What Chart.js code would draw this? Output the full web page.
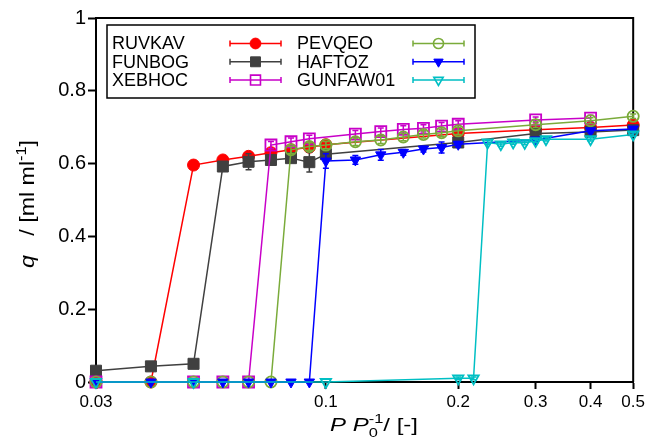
<!DOCTYPE html>
<html>
<head>
<meta charset="utf-8">
<script src="https://cdn.jsdelivr.net/npm/chart.js@4.4.1/dist/chart.umd.min.js"></script>
<style>
  html, body { margin: 0; padding: 0; background: #fff; }
  #wrap { width: 648px; height: 438px; }
</style>
</head>
<body>
<div id="wrap"><canvas id="myChart" width="648" height="438"></canvas></div>
<script>
// P/P0 values, uptake q and error for each structure
const xRuvkav = [0.03, 0.04, 0.05, 0.0583, 0.0667, 0.075, 0.0833, 0.0917, 0.1, 0.2, 0.3, 0.4, 0.5];
const yRuvkav = [0, 0, 0.596, 0.61, 0.62, 0.63, 0.638, 0.645, 0.652, 0.683, 0.693, 0.699, 0.706];
const eRuvkav = [0, 0, 0.005, 0.008, 0.008, 0.01, 0.006, 0.006, 0.005, 0.005, 0.004, 0.004, 0.004];

const xFunbog = [0.03, 0.04, 0.05, 0.0583, 0.0667, 0.075, 0.0833, 0.0917, 0.1, 0.2, 0.3, 0.4, 0.5];
const yFunbog = [0.031, 0.043, 0.05, 0.592, 0.605, 0.61, 0.615, 0.604, 0.626, 0.658, 0.683, 0.687, 0.692];
const eFunbog = [0, 0, 0, 0.01, 0.022, 0.01, 0.01, 0.027, 0.01, 0.008, 0.005, 0.005, 0.005];

const xXebhoc = [0.03, 0.05, 0.0583, 0.0667, 0.075, 0.0833, 0.0917, 0.1167, 0.1333, 0.15, 0.1667, 0.1833, 0.2, 0.3, 0.4];
const yXebhoc = [0, 0, 0, 0, 0.651, 0.66, 0.668, 0.681, 0.688, 0.694, 0.697, 0.703, 0.708, 0.72, 0.725];
const eXebhoc = [0, 0, 0, 0, 0.01, 0.01, 0.01, 0.01, 0.01, 0.01, 0.01, 0.01, 0.01, 0.008, 0.008];

const xPevqeo = [0.03, 0.04, 0.05, 0.0583, 0.0667, 0.075, 0.0833, 0.0917, 0.1, 0.1167, 0.1333, 0.15, 0.1667, 0.1833, 0.2, 0.3, 0.4, 0.5];
const yPevqeo = [0, 0, 0, 0, 0, 0, 0.638, 0.647, 0.651, 0.66, 0.665, 0.673, 0.68, 0.685, 0.69, 0.707, 0.718, 0.73];
const ePevqeo = [0, 0, 0, 0, 0, 0, 0.01, 0.01, 0.01, 0.01, 0.01, 0.01, 0.01, 0.01, 0.01, 0.008, 0.008, 0.006];

const xHaftoz = [0.03, 0.04, 0.05, 0.0583, 0.0667, 0.075, 0.0833, 0.0917, 0.1, 0.1167, 0.1333, 0.15, 0.1667, 0.1833, 0.2, 0.3, 0.4, 0.5];
const yHaftoz = [0, 0, 0, 0, 0, 0, 0, 0, 0.607, 0.61, 0.624, 0.631, 0.64, 0.644, 0.653, 0.665, 0.69, 0.695];
const eHaftoz = [0, 0, 0, 0, 0, 0, 0, 0, 0.02, 0.012, 0.015, 0.008, 0.008, 0.015, 0.008, 0.005, 0.005, 0.005];

const xGunfaw01 = [0.03, 0.05, 0.1, 0.2, 0.2167, 0.2333, 0.25, 0.2667, 0.2833, 0.3, 0.3167, 0.4, 0.5];
const yGunfaw01 = [0, 0, 0, 0.01, 0.01, 0.658, 0.653, 0.658, 0.657, 0.662, 0.667, 0.667, 0.68];
const eGunfaw01 = [0, 0, 0, 0.004, 0.004, 0.005, 0.005, 0.005, 0.005, 0.005, 0.005, 0.005, 0.005];

const xTicks = [0.03, 0.1, 0.2, 0.3, 0.4, 0.5];
const yTicks = [0, 0.2, 0.4, 0.6, 0.8, 1];

const FAM = "'Liberation Sans', Arial, Helvetica, sans-serif";

function series(label, xs, ys, errs, color, style, radius, filled, order) {
  return {
    label: label,
    data: xs.map((x, i) => ({ x: x, y: ys[i] })),
    errors: errs,
    borderColor: color,
    backgroundColor: filled ? color : 'rgba(0,0,0,0)',
    borderWidth: 1.5,
    pointStyle: style,
    pointRadius: radius,
    pointRotation: style === 'triangle' ? 180 : 0,
    pointBorderColor: color,
    pointBackgroundColor: filled ? color : 'rgba(0,0,0,0)',
    pointBorderWidth: filled ? 1 : 1.8,
    filled: filled,
    tension: 0,
    clip: false,
    order: order
  };
}

// error bars under each dataset's markers
const errorBars = {
  id: 'errorBars',
  beforeDatasetDraw(chart, args) {
    const ds = chart.data.datasets[args.index];
    if (!ds.errors) return;
    const ctx = chart.ctx, ys = chart.scales.y;
    ctx.save();
    ctx.strokeStyle = ds.borderColor;
    ctx.lineWidth = 1.5;
    args.meta.data.forEach((pt, i) => {
      const e = ds.errors[i];
      if (!e) return;
      const v = ds.data[i].y;
      const top = ys.getPixelForValue(v + e), bot = ys.getPixelForValue(v - e);
      ctx.beginPath();
      ctx.moveTo(pt.x, top); ctx.lineTo(pt.x, bot);
      ctx.moveTo(pt.x - 3, top); ctx.lineTo(pt.x + 3, top);
      ctx.moveTo(pt.x - 3, bot); ctx.lineTo(pt.x + 3, bot);
      ctx.stroke();
    });
    ctx.restore();
  }
};

// top and right border of the plot box
const frame = {
  id: 'frame',
  beforeDatasetsDraw(chart) {
    const a = chart.chartArea, ctx = chart.ctx;
    ctx.save();
    ctx.strokeStyle = '#000';
    ctx.lineWidth = 2;
    ctx.beginPath();
    ctx.moveTo(a.left, a.top); ctx.lineTo(a.right, a.top); ctx.lineTo(a.right, a.bottom);
    ctx.stroke();
    ctx.restore();
  }
};

function drawMarker(ctx, ds, x, y) {
  const r = ds.pointRadius * 0.9;
  ctx.beginPath();
  if (ds.pointStyle === 'circle') {
    ctx.arc(x, y, r, 0, Math.PI * 2);
  } else if (ds.pointStyle === 'rect') {
    const h = r * Math.SQRT1_2;
    ctx.rect(x - h, y - h, 2 * h, 2 * h);
  } else {
    const w = r * Math.sin(Math.PI / 3);
    ctx.moveTo(x, y + r); ctx.lineTo(x - w, y - r / 2); ctx.lineTo(x + w, y - r / 2);
    ctx.closePath();
  }
  if (ds.filled) { ctx.fillStyle = ds.borderColor; ctx.fill(); }
  ctx.lineWidth = ds.filled ? 1 : 1.6;
  ctx.strokeStyle = ds.borderColor;
  ctx.stroke();
}

const legendBox = {
  id: 'legendBox',
  afterDraw(chart) {
    const ctx = chart.ctx, a = chart.chartArea;
    const left = a.left + 11, top = a.top + 7, w = 368, h = 73;
    ctx.save();
    ctx.fillStyle = '#fff';
    ctx.fillRect(left, top, w, h);
    ctx.strokeStyle = '#000';
    ctx.lineWidth = 1.5;
    ctx.strokeRect(left, top, w, h);
    chart.data.datasets.forEach((ds, i) => {
      const col = Math.floor(i / 3), row = i % 3;
      const cy = top + 18.5 + row * 18.3;
      ctx.fillStyle = '#000';
      ctx.font = '18px ' + FAM;
      ctx.textBaseline = 'middle';
      ctx.textAlign = 'left';
      ctx.fillText(ds.label, left + 5 + col * 185, cy + 1);
      const x0 = left + 123 + col * 183, x1 = x0 + 51;
      ctx.strokeStyle = ds.borderColor;
      ctx.lineWidth = 1.5;
      ctx.beginPath();
      ctx.moveTo(x0, cy); ctx.lineTo(x1, cy);
      ctx.moveTo(x0, cy - 3); ctx.lineTo(x0, cy + 3);
      ctx.moveTo(x1, cy - 3); ctx.lineTo(x1, cy + 3);
      ctx.stroke();
      drawMarker(ctx, ds, (x0 + x1) / 2, cy);
    });
    ctx.restore();
  }
};

function fontStr(it, size) {
  return (it ? 'italic ' : '') + size + 'px ' + FAM;
}
function partWidth(ctx, p, size) {
  if (p.sub || p.sup) {
    ctx.font = fontStr(false, Math.round(size * 0.7));
    return Math.max(p.sub ? ctx.measureText(p.sub).width : 0, p.sup ? ctx.measureText(p.sup).width : 0);
  }
  ctx.font = fontStr(p.it, size);
  return ctx.measureText(p.t).width;
}
function drawRich(ctx, parts, size, target) {
  const ws = parts.map(p => partWidth(ctx, p, size));
  const total = ws.reduce((s, v) => s + v, 0);
  ctx.save();
  ctx.scale(target / total, 1);
  ctx.fillStyle = '#000';
  ctx.textAlign = 'left';
  ctx.textBaseline = 'alphabetic';
  let x = -total / 2;
  parts.forEach((p, i) => {
    if (p.sub || p.sup) {
      ctx.font = fontStr(false, Math.round(size * 0.7));
      if (p.sup) ctx.fillText(p.sup, x, -size * 0.42);
      if (p.sub) ctx.fillText(p.sub, x, size * 0.3);
    } else {
      ctx.font = fontStr(p.it, size);
      ctx.fillText(p.t, x, 0);
    }
    x += ws[i];
  });
  ctx.restore();
}

const axisTitles = {
  id: 'axisTitles',
  afterDraw(chart) {
    const ctx = chart.ctx;
    ctx.save();
    ctx.translate(34, 204);
    ctx.rotate(-Math.PI / 2);
    drawRich(ctx, [{ t: 'q', it: true }, { t: '   / [ml ml' }, { sup: '-1' }, { t: ']' }], 20, 128);
    ctx.restore();
    ctx.save();
    ctx.translate(374, 431);
    drawRich(ctx, [{ t: 'P', it: true }, { t: ' ' }, { t: 'P', it: true }, { sub: '0', sup: '-1' }, { t: '/ [-]' }], 19, 88);
    ctx.restore();
  }
};

const data = {
  datasets: [
    series('RUVKAV', xRuvkav, yRuvkav, eRuvkav, '#ff0000', 'circle', 6, true, 6),
    series('FUNBOG', xFunbog, yFunbog, eFunbog, '#404040', 'rect', 7.8, true, 5),
    series('XEBHOC', xXebhoc, yXebhoc, eXebhoc, '#c800c8', 'rect', 7.8, false, 4),
    series('PEVQEO', xPevqeo, yPevqeo, ePevqeo, '#7aab3a', 'circle', 5.6, false, 3),
    series('HAFTOZ', xHaftoz, yHaftoz, eHaftoz, '#0000ff', 'triangle', 6, true, 2),
    series('GUNFAW01', xGunfaw01, yGunfaw01, eGunfaw01, '#00bfc4', 'triangle', 6, false, 1)
  ]
};

const config = {
  type: 'line',
  data: data,
  options: {
    responsive: false,
    animation: false,
    devicePixelRatio: 1,
    layout: { padding: { top: 18, right: 14, left: 0, bottom: 0 } },
    plugins: { legend: { display: false }, tooltip: { enabled: false } },
    scales: {
      x: {
        type: 'logarithmic',
        min: 0.03,
        max: 0.5,
        afterBuildTicks: s => { s.ticks = xTicks.map(v => ({ value: v })); },
        afterFit: s => { s.height = 56; },
        ticks: {
          autoSkip: false, maxRotation: 0, padding: 3, color: '#000',
          font: { size: 17, family: FAM },
          callback: v => String(v)
        },
        grid: { drawOnChartArea: false, drawTicks: true, tickLength: 7, tickWidth: 2, tickColor: '#000' },
        border: { display: true, color: '#000', width: 2 },
        title: { display: false }
      },
      y: {
        type: 'linear',
        min: 0,
        max: 1,
        afterBuildTicks: s => { s.ticks = yTicks.map(v => ({ value: v })); },
        afterFit: s => { s.width = 96; },
        ticks: {
          padding: 2, color: '#000',
          font: { size: 20, family: FAM },
          callback: v => String(Math.round(v * 10) / 10)
        },
        grid: { drawOnChartArea: false, drawTicks: true, tickLength: 8, tickWidth: 2, tickColor: '#000' },
        border: { display: true, color: '#000', width: 2 },
        title: { display: false }
      }
    }
  },
  plugins: [errorBars, frame, legendBox, axisTitles]
};

let myChart = new Chart(document.getElementById('myChart'), config);
</script>
</body>
</html>
